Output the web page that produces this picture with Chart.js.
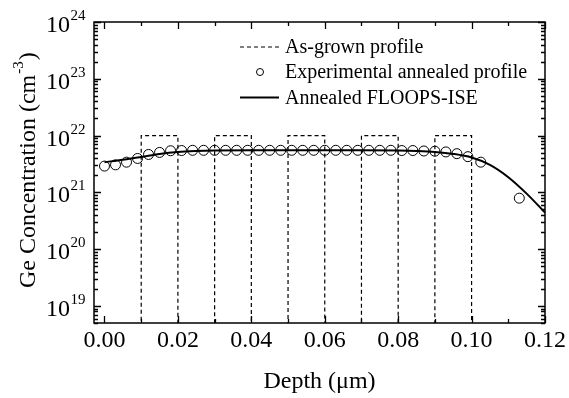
<!DOCTYPE html>
<html>
<head>
<meta charset="utf-8">
<script src="https://cdn.jsdelivr.net/npm/chart.js@4"></script>
<style>
html,body{margin:0;padding:0;background:#fff;}
canvas{display:block;}
</style>
</head>
<body>
<canvas id="c" width="569" height="398"></canvas>
<script>
// ---- data ----
const asGrownX = [0.01,0.01,0.02,0.02,0.03,0.03,0.04,0.04,0.05,0.05,0.06,0.06,0.07,0.07,0.08,0.08,0.09,0.09,0.10,0.10];
const asGrownY = [1e18,1e22,1e22,1e18,1e18,1e22,1e22,1e18,1e18,1e22,1e22,1e18,1e18,1e22,1e22,1e18,1e18,1e22,1e22,1e18];

const expX = [0,0.003,0.006,0.009,0.012,0.015,0.018,0.021,0.024,0.027,0.030,0.033,0.036,0.039,0.042,0.045,0.048,0.051,0.054,0.057,0.060,0.063,0.066,0.069,0.072,0.075,0.078,0.081,0.084,0.087,0.090,0.093,0.096,0.099,0.1025,0.113];
const expY = [2.9e21,3.05e21,3.4e21,3.95e21,4.65e21,5.05e21,5.4e21,5.45e21,5.5e21,5.5e21,5.5e21,5.5e21,5.5e21,5.5e21,5.5e21,5.5e21,5.5e21,5.5e21,5.5e21,5.5e21,5.5e21,5.5e21,5.5e21,5.5e21,5.5e21,5.5e21,5.5e21,5.45e21,5.45e21,5.35e21,5.3e21,5.15e21,4.8e21,4.25e21,3.4e21,7.9e20];

const floopsX = [0,0.005,0.01,0.015,0.02,0.025,0.03,0.04,0.05,0.06,0.07,0.08,0.085,0.09,0.095,0.1,0.105,0.11,0.115,0.12];
const floopsY = [3.4e21,3.75e21,4.2e21,4.75e21,5.15e21,5.35e21,5.45e21,5.5e21,5.5e21,5.5e21,5.5e21,5.45e21,5.35e21,5.15e21,4.75e21,4.1e21,3.05e21,1.85e21,9.5e20,4.4e20];

const xTickValues = [0,0.02,0.04,0.06,0.08,0.10,0.12];
const xMinorValues = [0.01,0.03,0.05,0.07,0.09,0.11];
const yTickExponents = [19,20,21,22,23,24];

const legendLabels = ['As-grown profile','Experimental annealed profile','Annealed FLOOPS-ISE'];
const xTitle = 'Depth (\u03bcm)';
const yTitleMain = 'Ge Concentration (cm';
const yTitleSup = '-3';

const SERIF = '"Liberation Serif","Times New Roman",serif';

function pts(xs, ys){ return xs.map((v,i)=>({x:v,y:ys[i]})); }

const framePlugin = {
  id:'frame',
  afterDatasetsDraw(chart){
    const {ctx, chartArea:a, scales:{x,y}} = chart;
    ctx.save();
    ctx.strokeStyle='#000';
    ctx.lineWidth=1.5;
    ctx.strokeRect(a.left, a.top, a.right-a.left, a.bottom-a.top);
    ctx.lineWidth=1.3;
    ctx.beginPath();
    // x ticks (bottom and top, inward)
    xTickValues.forEach(v=>{
      const px = Math.round(x.getPixelForValue(v))+0.5;
      ctx.moveTo(px,a.bottom); ctx.lineTo(px,a.bottom-7);
      ctx.moveTo(px,a.top); ctx.lineTo(px,a.top+7);
    });
    xMinorValues.forEach(v=>{
      const px = Math.round(x.getPixelForValue(v))+0.5;
      ctx.moveTo(px,a.bottom); ctx.lineTo(px,a.bottom-4);
      ctx.moveTo(px,a.top); ctx.lineTo(px,a.top+4);
    });
    // y ticks (left and right, inward)
    yTickExponents.forEach(e=>{
      const py = Math.round(y.getPixelForValue(Math.pow(10,e)))+0.5;
      ctx.moveTo(a.left,py); ctx.lineTo(a.left+7,py);
      ctx.moveTo(a.right,py); ctx.lineTo(a.right-7,py);
    });
    for(let e=18;e<24;e++){
      for(let m=2;m<=9;m++){
        const v = m*Math.pow(10,e);
        if(v < y.min || v > y.max) continue;
        const py = Math.round(y.getPixelForValue(v))+0.5;
        ctx.moveTo(a.left,py); ctx.lineTo(a.left+4,py);
        ctx.moveTo(a.right,py); ctx.lineTo(a.right-4,py);
      }
    }
    ctx.stroke();

    // y tick labels with superscripts
    ctx.fillStyle='#000';
    ctx.textBaseline='alphabetic';
    yTickExponents.forEach(e=>{
      const py = y.getPixelForValue(Math.pow(10,e));
      ctx.font = '24px '+SERIF;
      ctx.textAlign='right';
      ctx.fillText('10', 70, py+10);
      ctx.font = '15px '+SERIF;
      ctx.textAlign='left';
      ctx.fillText(String(e), 70.5, py-2);
    });

    // y title (rotated)
    ctx.save();
    ctx.translate(35, 288);
    ctx.rotate(-Math.PI/2);
    ctx.font='24px '+SERIF;
    ctx.textAlign='left';
    ctx.fillText(yTitleMain, 0, 0);
    let w = ctx.measureText(yTitleMain).width;
    ctx.font='15px '+SERIF;
    ctx.fillText(yTitleSup, w+1, -12);
    w += ctx.measureText(yTitleSup).width + 2;
    ctx.font='24px '+SERIF;
    ctx.fillText(')', w, 0);
    ctx.restore();

    // legend
    const rows = [47, 72, 97.5];
    ctx.font='20px '+SERIF;
    ctx.textAlign='left';
    ctx.textBaseline='middle';
    // dashed sample
    ctx.lineWidth=1.2;
    ctx.setLineDash([4,3]);
    ctx.beginPath(); ctx.moveTo(240,rows[0]); ctx.lineTo(279,rows[0]); ctx.stroke();
    ctx.setLineDash([]);
    // circle sample
    ctx.lineWidth=1;
    ctx.beginPath(); ctx.arc(260,rows[1],3.5,0,Math.PI*2); ctx.stroke();
    // solid sample
    ctx.lineWidth=2;
    ctx.beginPath(); ctx.moveTo(240,rows[2]); ctx.lineTo(279,rows[2]); ctx.stroke();
    legendLabels.forEach((t,i)=>ctx.fillText(t, 285, rows[i]+1));
    ctx.restore();
  }
};

new Chart(document.getElementById('c'), {
  type:'line',
  data:{
    datasets:[
      {label:legendLabels[0], data:pts(asGrownX,asGrownY), borderColor:'#000', borderWidth:1.2, borderDash:[4,3], pointRadius:0, fill:false, tension:0},
      {label:legendLabels[1], data:pts(expX,expY), showLine:false, borderColor:'#000', backgroundColor:'rgba(0,0,0,0)', pointRadius:5, pointBorderWidth:1, pointStyle:'circle'},
      {label:legendLabels[2], data:pts(floopsX,floopsY), borderColor:'#000', borderWidth:2, pointRadius:0, fill:false, cubicInterpolationMode:'monotone'}
    ]
  },
  options:{
    responsive:false,
    animation:false,
    devicePixelRatio:1,
    layout:{padding:{left:0,right:23,top:22,bottom:0}},
    plugins:{legend:{display:false}, tooltip:{enabled:false}},
    scales:{
      x:{
        type:'linear',
        min:-0.00286, max:0.12,
        grid:{display:false, drawTicks:false},
        border:{display:false},
        afterBuildTicks(s){ s.ticks = xTickValues.map(v=>({value:v})); },
        afterFit(s){ s.height = 75; },
        ticks:{
          color:'#000', padding:3, maxRotation:0, autoSkip:false,
          font:{family:SERIF, size:24},
          callback:(v)=>Number(v).toFixed(2)
        },
        title:{display:true, text:xTitle, color:'#000', font:{family:SERIF, size:24}, padding:{top:0,bottom:2}}
      },
      y:{
        type:'logarithmic',
        min:5e18, max:1e24,
        grid:{display:false, drawTicks:false},
        border:{display:false},
        ticks:{display:false},
        afterFit(s){ s.width = 94; }
      }
    }
  },
  plugins:[framePlugin]
});
</script>
</body>
</html>
